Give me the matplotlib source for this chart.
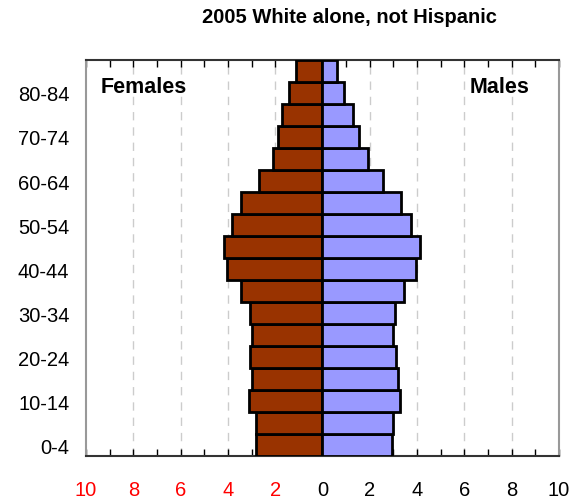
import matplotlib.pyplot as plt
import numpy as np

plt.rcParams['font.family'] = ['Liberation Sans', 'DejaVu Sans']

ages = ['0-4', '5-9', '10-14', '15-19', '20-24', '25-29', '30-34', '35-39',
        '40-44', '45-49', '50-54', '55-59', '60-64', '65-69', '70-74',
        '75-79', '80-84', '85+']
females = [2.80, 2.83, 3.10, 3.00, 3.07, 2.98, 3.07, 3.46,
           4.04, 4.15, 3.84, 3.45, 2.70, 2.11, 1.87, 1.73, 1.40, 1.12]
males = [2.94, 2.97, 3.29, 3.18, 3.11, 2.98, 3.05, 3.45,
         3.97, 4.11, 3.74, 3.32, 2.56, 1.94, 1.56, 1.30, 0.91, 0.60]
xticks = [-10, -8, -6, -4, -2, 0, 2, 4, 6, 8, 10]
xticklabels = ['10', '8', '6', '4', '2', '0', '2', '4', '6', '8', '10']

fig = plt.figure(figsize=(5.73, 5.02), dpi=100)
ax = fig.add_axes([0.150, 0.0896, 0.8256, 0.7889])

y = np.arange(len(ages))
ax.barh(y, [-v for v in females], height=1.0, color='#993300',
        edgecolor='black', linewidth=2, zorder=3)
ax.barh(y, males, height=1.0, color='#9999ff',
        edgecolor='black', linewidth=2, zorder=3)

ax.set_xlim(-10, 10)
ax.set_ylim(-0.5, len(ages) - 0.5)

# dashed grid
for g in [-8, -6, -4, -2, 2, 4, 6, 8]:
    ax.axvline(g, color='#cccccc', linestyle=(0, (6, 5)), linewidth=1, zorder=1)

ax.set_xticks(xticks)
ax.set_xticklabels(xticklabels, fontsize=14.5)
for lbl, t in zip(ax.get_xticklabels(), xticks):
    lbl.set_color('red' if t < 0 else 'black')
ax.set_xticks(np.arange(-10, 11, 1), minor=True)
ax.tick_params(axis='x', which='both', direction='in', length=5, width=1,
               top=True, pad=17)

ax.set_yticks(y[::2])
ax.set_yticklabels(ages[::2], fontsize=14.5)
ax.tick_params(axis='y', length=0, pad=12)

for side in ['top', 'bottom']:
    ax.spines[side].set_color('#333333')
    ax.spines[side].set_linewidth(1.5)
for side in ['left', 'right']:
    ax.spines[side].set_color('#999999')
    ax.spines[side].set_linewidth(1.5)

ax.text(0.03, 0.96, 'Females', transform=ax.transAxes, fontsize=15.5,
         fontweight='bold', va='top', ha='left', zorder=5)
ax.text(0.81, 0.96, 'Males', transform=ax.transAxes, fontsize=15.5,
        fontweight='bold', va='top', ha='left', zorder=5)

fig.text(0.61, 0.985, '2005 White alone, not Hispanic', fontsize=14.5,
         fontweight='bold', ha='center', va='top')

fig.savefig('out.png', dpi=100)
